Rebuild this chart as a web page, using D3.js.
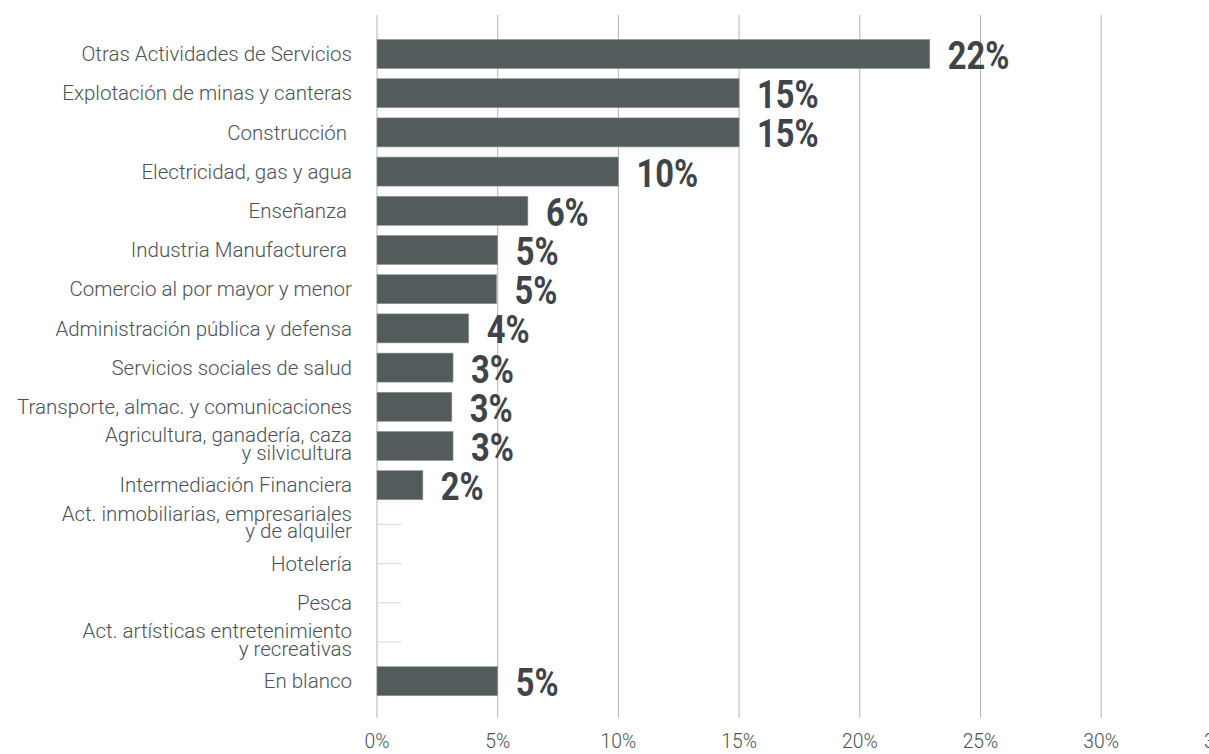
<!DOCTYPE html>
<html>
<head>
<meta charset="utf-8">
<script src="https://cdn.jsdelivr.net/npm/d3@7"></script>
<style>
  body { margin: 0; background: #fff; }
  text { font-family: Roboto, "Open Sans", sans-serif; }
</style>
</head>
<body>
<div class="chart"></div>
<script>
// data
var categories = [
  "Otras Actividades de Servicios",
  "Explotación de minas y canteras",
  "Construcción ",
  "Electricidad, gas y agua",
  "Enseñanza ",
  "Industria Manufacturera ",
  "Comercio al por mayor y menor",
  "Administración pública y defensa",
  "Servicios sociales de salud",
  "Transporte, almac. y comunicaciones",
  "Agricultura, ganadería, caza\ny silvicultura",
  "Intermediación Financiera",
  "Act. inmobiliarias, empresariales\ny de alquiler",
  "Hotelería",
  "Pesca",
  "Act. artísticas entretenimiento\ny recreativas",
  "En blanco"
];
var values = [22.9, 15.0, 15.0, 10.0, 6.25, 5.0, 4.95, 3.8, 3.15, 3.1, 3.15, 1.9, 0, 0, 0, 0, 5.0];
var valueLabels = ["22%", "15%", "15%", "10%", "6%", "5%", "5%", "4%", "3%", "3%", "3%", "2%", "", "", "", "", "5%"];
var xTicks = [0, 5, 10, 15, 20, 25, 30, 35];

var svgWidth = 1209;
var svgHeight = 754;

var svg = d3.select(".chart")
  .append("svg")
  .attr("width", svgWidth)
  .attr("height", svgHeight);

var x = d3.scaleLinear()
  .domain([0, 35])
  .range([377, 377 + 35 * 24.14]);

var y = d3.scaleBand()
  .domain(categories)
  .range([34.4, 700.8])
  .paddingInner(0.26)
  .paddingOuter(0.13);

var gridTop = 15;
var gridBottom = 718;

// vertical gridlines
svg.append("g")
  .selectAll("line")
  .data(xTicks)
  .enter()
  .append("line")
  .attr("x1", d => x(d))
  .attr("x2", d => x(d))
  .attr("y1", gridTop)
  .attr("y2", gridBottom)
  .attr("stroke", "#b4b4b4")
  .attr("stroke-width", 1);

// x tick labels
svg.append("g")
  .selectAll("text")
  .data(xTicks)
  .enter()
  .append("text")
  .attr("transform", d => `translate(${x(d)}, 748) scale(0.92, 1)`)
  .attr("text-anchor", "middle")
  .attr("font-size", "21px")
  .attr("font-weight", 300)
  .attr("fill", "#4a5256")
  .text(d => d + "%");

// stubs for empty rows
svg.append("g")
  .selectAll("line")
  .data(categories.filter((c, i) => values[i] === 0))
  .enter()
  .append("line")
  .attr("x1", x(0))
  .attr("x2", x(1))
  .attr("y1", d => y(d) + y.bandwidth() / 2)
  .attr("y2", d => y(d) + y.bandwidth() / 2)
  .attr("stroke", "#d6d6d6")
  .attr("stroke-width", 1);

// bars
svg.append("g")
  .selectAll("rect")
  .data(categories.filter((c, i) => values[i] > 0))
  .enter()
  .append("rect")
  .attr("x", x(0))
  .attr("y", d => y(d))
  .attr("width", d => x(values[categories.indexOf(d)]) - x(0))
  .attr("height", y.bandwidth())
  .attr("fill", "#535b5d")
  .attr("stroke", "#8c9496")
  .attr("stroke-width", 0.6);

// value labels
svg.append("g")
  .selectAll("text")
  .data(categories.filter((c, i) => values[i] > 0))
  .enter()
  .append("text")
  .attr("transform", function(d) {
    var i = categories.indexOf(d);
    return `translate(${x(values[i]) + 18}, ${y(d) + y.bandwidth() / 2 + 15}) scale(0.86, 1)`;
  })
  .attr("font-size", "38px")
  .attr("font-weight", 700)
  .attr("fill", "#3e4448")
  .text(d => valueLabels[categories.indexOf(d)]);

// category labels
var catText = svg.append("g")
  .selectAll("text")
  .data(categories)
  .enter()
  .append("text")
  .attr("x", 352)
  .attr("y", d => y(d) + y.bandwidth() / 2)
  .attr("text-anchor", "end")
  .attr("font-size", "20.5px")
  .attr("font-weight", 300)
  .attr("fill", "#4a5256")
  .style("white-space", "pre");

catText.each(function(d) {
  var lines = d.split("\n");
  var t = d3.select(this);
  if (lines.length === 1) {
    t.append("tspan").attr("x", 352).attr("dy", "0.35em").text(lines[0]);
  } else {
    t.append("tspan").attr("x", 352).attr("dy", "-0.18em").text(lines[0]);
    t.append("tspan").attr("x", 352).attr("dy", "0.85em").text(lines[1]);
  }
});
</script>
</body>
</html>
